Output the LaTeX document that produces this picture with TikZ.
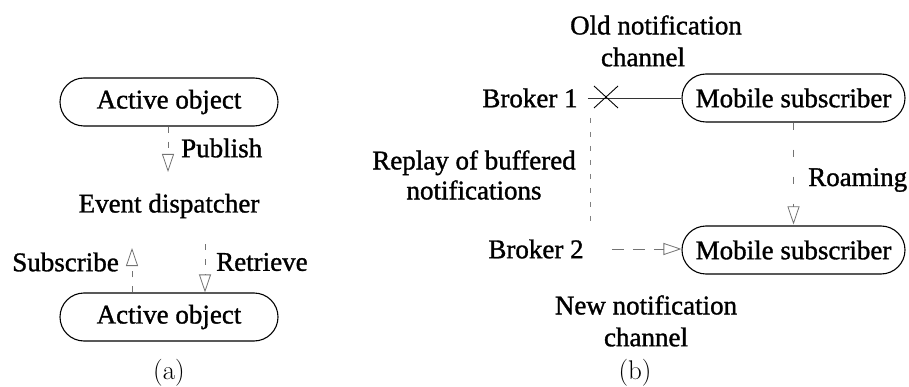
\documentclass[tikz,border=0pt]{standalone}
\usepackage{fontspec}
\setmainfont{Liberation Serif}[FakeBold=1.2]
\newfontfamily\capfont{Latin Modern Roman}
\usetikzlibrary{arrows.meta,shapes.misc}
\begin{document}
\begin{tikzpicture}[x=1pt,y=-1pt,
  every node/.style={font=\fontsize{27}{30}\selectfont, inner sep=0pt},
  obj/.style={draw, rounded rectangle, line width=1.1pt, minimum height=48pt},
  caption/.style={font=\capfont\fontsize{27}{30}\selectfont},
  opentip/.style={-{Triangle[open,length=18pt,width=12pt,line width=0.8pt]}},
  flow/.style={draw=black!55, line width=0.8pt, dash pattern=on 6pt off 9pt, opentip},
  sparse/.style={draw=black!55, line width=0.8pt, dash pattern=on 7pt off 20pt, opentip},
  replay/.style={draw=black!50, line width=0.8pt, dash pattern=on 5pt off 9pt},
  channel/.style={draw=black!80, line width=0.8pt}]
\useasboundingbox (0,0) rectangle (909,387);

% ---------- (a) publish / subscribe through a dispatcher ----------
\node[obj, minimum width=218pt] (ao1) at (169,102) {Active object};
\node (disp) at (169,206) {Event dispatcher};
\node[obj, minimum width=218pt] (ao2) at (169,317) {Active object};
\node[caption] (capa) at (169,373) {(a)};

\coordinate (pubtip) at (168,172);
\draw[flow] (ao1.south -| pubtip) -- (pubtip);
\node[anchor=west] (publab) at (181,148) {Publish};

\coordinate (subtip) at (132,248);
\draw[flow] (ao2.north -| subtip) -- (subtip);
\node[anchor=east] (sublab) at (119,262) {Subscribe};

\coordinate (retstart) at (205,244);
\draw[flow] (retstart) -- (retstart |- ao2.north);
\node[anchor=west] (retlab) at (216,262) {Retrieve};

% ---------- (b) roaming subscriber ----------
\node (old1) at (656,25) {Old notification};
\node (old2) at (643,57) {channel};

\node (b1) at (530,98) {Broker 1};
\node[obj, minimum width=223pt] (ms1) at (793.5,98) {Mobile subscriber};
\draw[channel] ([xshift=10pt]b1.east) -- (ms1.west);
\coordinate (cut) at (606,97);
\draw[line width=0.9pt] ([shift={(-12,-11)}]cut) -- ([shift={(12,11)}]cut)
                        ([shift={(-12,11)}]cut) -- ([shift={(12,-11)}]cut);

\node[align=center] (replab) at (474,175) {Replay of buffered\\notifications};
\coordinate (rtop) at (590,118);
\draw[replay] (rtop) -- (rtop |- 0,228);

\node (b2) at (536,249) {Broker 2};
\node[obj, minimum width=223pt] (ms2) at (793.5,250) {Mobile subscriber};
\draw[flow, dash pattern=on 12pt off 9pt, shorten <=28pt] (b2.east) -- (b2.east -| ms2.west);

\draw[sparse, shorten >=1pt] (ms1.south) -- (ms2.north);
\node[anchor=west] (roamlab) at (808,180) {Roaming};

\node (new1) at (646,305) {New notification};
\node (new2) at (646,337) {channel};
\node[caption] (capb) at (635,373) {(b)};
\end{tikzpicture}
\end{document}
